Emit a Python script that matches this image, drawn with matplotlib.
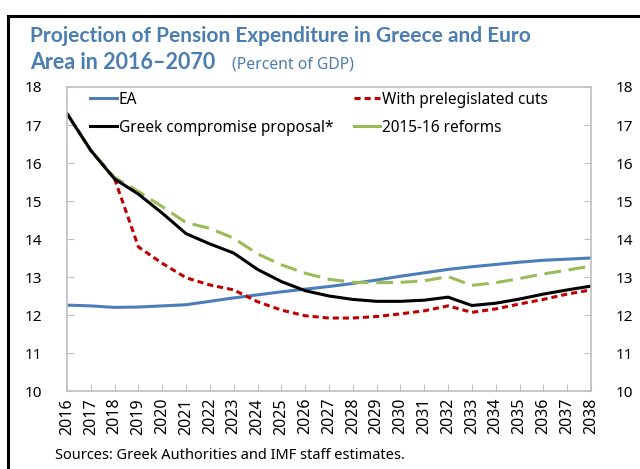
import matplotlib
matplotlib.use("Agg")
import matplotlib.pyplot as plt
from matplotlib.lines import Line2D

years = list(range(2016, 2039))

ea = [12.26, 12.24, 12.20, 12.21, 12.24, 12.27, 12.36, 12.45, 12.53, 12.61, 12.68,
      12.75, 12.83, 12.92, 13.02, 13.11, 13.20, 13.27, 13.33, 13.39, 13.44, 13.47, 13.50]
greek = [17.30, 16.33, 15.58, 15.18, 14.68, 14.14, 13.87, 13.63, 13.20, 12.88, 12.64,
         12.50, 12.41, 12.36, 12.36, 12.39, 12.47, 12.25, 12.31, 12.42, 12.55, 12.66, 12.76]
prelegislated = [17.30, 16.33, 15.58, 13.79, 13.36, 12.98, 12.79, 12.66, 12.35, 12.13, 11.98,
                 11.92, 11.92, 11.96, 12.03, 12.11, 12.24, 12.07, 12.16, 12.29, 12.41, 12.55, 12.66]
reforms = [17.30, 16.33, 15.62, 15.25, 14.85, 14.43, 14.28, 14.02, 13.61, 13.32, 13.10,
           12.94, 12.86, 12.85, 12.86, 12.90, 13.01, 12.78, 12.85, 12.96, 13.08, 13.18, 13.29]

labels = ["EA", "Greek compromise proposal*", "With prelegislated cuts", "2015-16 reforms"]
colors = ["#4A7EBB", "#000000", "#C00000", "#9BBB59"]
yticks = list(range(10, 19))

TITLE_BLUE = "#4A7DB1"
GRID_GREY = "#BFBFBF"
plt.rcParams["font.family"] = ["Noto Sans", "DejaVu Sans"]

fig = plt.figure(figsize=(6.4, 4.69), dpi=100)
ax = fig.add_axes([0.1047, 0.1663, 0.8187, 0.6482])

lw = 2.2
ax.plot(years, ea, color=colors[0], lw=lw, solid_capstyle="butt")
ax.plot(years, prelegislated, color=colors[2], lw=lw, ls=(0, (2.0, 1.3)))
ax.plot(years, reforms, color=colors[3], lw=lw, ls=(0, (5.5, 2.5)))
ax.plot(years, greek, color=colors[1], lw=lw)

ax.set_xlim(2016, 2038)
ax.set_ylim(10, 18)
ax.set_xticks(years)
ax.set_xticklabels([str(y) for y in years], rotation=90, fontsize=11.5)
ax.set_yticks(yticks)
ax.set_yticklabels([str(t) for t in yticks], fontsize=11)
ax.tick_params(axis="y", direction="in", length=5, color=GRID_GREY, labelright=True,
               right=True, pad=18)
ax.tick_params(axis="x", direction="in", length=5, color=GRID_GREY, pad=5)
for s in ax.spines.values():
    s.set_color(GRID_GREY)
    s.set_linewidth(1.2)

handles = [
    Line2D([], [], color=colors[0], lw=lw),
    Line2D([], [], color=colors[1], lw=lw),
    Line2D([], [], color=colors[2], lw=lw, ls=(0, (2.0, 1.3))),
    Line2D([], [], color=colors[3], lw=lw),
]
ax.legend(handles, labels, ncol=2, frameon=False, fontsize=11.1,
          loc="upper left", bbox_to_anchor=(0.033, 1.005),
          handlelength=1.7, handletextpad=0.15, columnspacing=1.3,
          labelspacing=0.78, borderaxespad=0)

# title
fig.text(0.047, 0.911, "Projection of Pension Expenditure in Greece and Euro",
         fontsize=15, fontweight="bold", color=TITLE_BLUE, family="Lato")
t2 = fig.text(0.047, 0.853, "Area in 2016\u20132070", fontsize=15.5, fontweight="bold",
              color=TITLE_BLUE, family="Lato")
fig.canvas.draw()
bb = t2.get_window_extent()
fig.text(bb.x1 / fig.bbox.width + 0.026, 0.853, "(Percent of GDP)", fontsize=11.3,
         color=TITLE_BLUE)

fig.text(0.086, 0.022, "Sources: Greek Authorities and IMF staff estimates.",
         fontsize=10.5, color="#000000")

# outer frame (left and top edges visible)
fig.add_artist(Line2D([0.013, 0.013], [0.0, 0.966], color="black", lw=2.2,
                      transform=fig.transFigure))
fig.add_artist(Line2D([0.013, 1.0], [0.966, 0.966], color="black", lw=2.2,
                      transform=fig.transFigure))

fig.savefig("out.png", dpi=100)
